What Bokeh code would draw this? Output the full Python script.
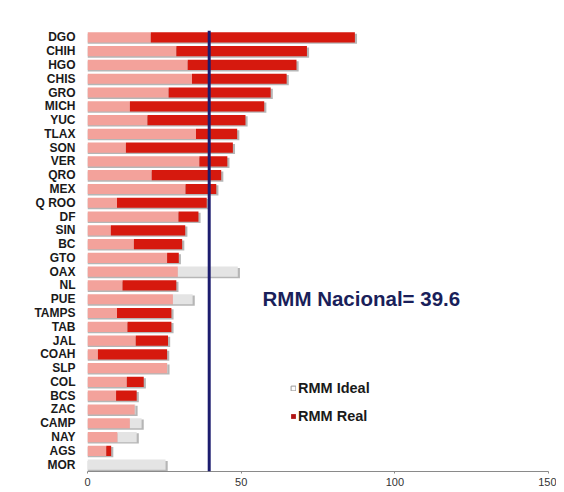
from bokeh.plotting import figure
from bokeh.models import (ColumnDataSource, FactorRange, Range1d, Span, Label,
                          Legend, LegendItem, FixedTicker)
from bokeh.transform import dodge
from bokeh.embed import file_html
from bokeh.resources import INLINE

states = ["DGO", "CHIH", "HGO", "CHIS", "GRO", "MICH", "YUC", "TLAX", "SON", "VER",
          "QRO", "MEX", "Q ROO", "DF", "SIN", "BC", "GTO", "OAX", "NL", "PUE",
          "TAMPS", "TAB", "JAL", "COAH", "SLP", "COL", "BCS", "ZAC", "CAMP", "NAY",
          "AGS", "MOR"]
rmm_ideal = [20.6, 28.9, 32.6, 34.0, 26.4, 13.8, 19.5, 35.3, 12.5, 36.4,
             20.9, 31.9, 9.6, 29.6, 7.6, 15.1, 25.9, 48.9, 11.4, 34.2,
             9.6, 13.0, 15.7, 3.4, 26.0, 12.8, 9.3, 15.6, 17.6, 16.0,
             6.1, 25.4]
rmm_real = [87.0, 71.4, 68.0, 64.8, 59.6, 57.5, 51.4, 48.7, 47.3, 45.5,
            43.5, 41.9, 38.8, 36.1, 31.8, 30.8, 29.7, 29.4, 28.9, 27.8,
            27.3, 27.3, 26.2, 25.9, 25.9, 18.3, 16.0, 15.4, 13.8, 9.8,
            7.7, 0.0]
rmm_nacional = 39.6
x_ticks = [0, 50, 100, 150]

FONT = "Liberation Sans"
PINK = "#f3a29b"
RED = "#d6190e"
GRAY = "#e4e4e4"
NAVY = "#1c1c6e"
BAR_H = 0.74

overlap = [min(i, r) for i, r in zip(rmm_ideal, rmm_real)]
total = [max(i, r) for i, r in zip(rmm_ideal, rmm_real)]
src = ColumnDataSource(dict(
    state=states, ideal=rmm_ideal, real=rmm_real, overlap=overlap,
    total=[t + 0.7 for t in total], zero=[0] * len(states),
))

p = figure(width=556, height=488, output_backend="svg", toolbar_location=None,
           y_range=FactorRange(factors=list(reversed(states)), range_padding=0),
           x_range=Range1d(0, 150),
           min_border_left=87, min_border_right=8, min_border_top=30,
           min_border_bottom=10)
p.outline_line_color = None
p.grid.visible = False
p.background_fill_color = "white"

# drop shadow
p.hbar(y=dodge("state", -0.1, range=p.y_range), left="zero", right="total",
       height=BAR_H, source=src, fill_color="#7a7a7a", fill_alpha=0.55, line_color=None)
# overlap of ideal and real (pink)
p.hbar(y="state", left="zero", right="overlap", height=BAR_H, source=src,
       fill_color=PINK, line_color=None)
# real beyond ideal (red)
p.hbar(y="state", left="overlap", right="real", height=BAR_H, source=src,
       fill_color=RED, line_color=None)
# ideal beyond real (gray)
p.hbar(y="state", left="overlap", right="ideal", height=BAR_H, source=src,
       fill_color=GRAY, line_color=None)

# legend swatches (not drawn in the plot area)
nan = float("nan")
dummy = ColumnDataSource(dict(l=[nan], r=[nan], t=[nan], b=[nan]))
r_ideal = p.quad(left="l", right="r", top="t", bottom="b", source=dummy,
                 fill_color="white", line_color="#999999", line_width=1)
r_real = p.quad(left="l", right="r", top="t", bottom="b", source=dummy,
                fill_color="#b01414", line_color=None)
legend = Legend(items=[LegendItem(label="RMM Ideal", renderers=[r_ideal]),
                       LegendItem(label="RMM Real", renderers=[r_real])],
                location=(203, 47), orientation="vertical",
                glyph_width=6, glyph_height=6, label_standoff=2,
                label_height=16, spacing=12, padding=0, margin=0,
                border_line_color=None, background_fill_alpha=0,
                label_text_font=FONT, label_text_font_size="14.5px",
                label_text_font_style="bold", label_text_color="#1a1a1a")
p.add_layout(legend, "center")

p.add_layout(Span(location=rmm_nacional, dimension="height", line_color=NAVY,
                  line_width=3))
p.add_layout(Label(x=175, y=173, x_units="screen", y_units="screen",
                   text=f"RMM Nacional= {rmm_nacional}", text_font=FONT,
                   text_font_size="20.5px", text_font_style="bold",
                   text_color="#1a1f5a", text_baseline="middle"))

# y axis
p.yaxis.axis_line_color = None
p.yaxis.major_tick_line_color = None
p.yaxis.minor_tick_line_color = None
p.yaxis.major_label_standoff = 6
p.yaxis.major_label_text_font = FONT
p.yaxis.major_label_text_font_size = "12px"
p.yaxis.major_label_text_font_style = "bold"
p.yaxis.major_label_text_color = "#1a1a1a"

# x axis
p.xaxis.ticker = FixedTicker(ticks=x_ticks)
p.xaxis.axis_line_color = "#8a8a8a"
p.xaxis.major_tick_line_color = "#8a8a8a"
p.xaxis.major_tick_out = 2
p.xaxis.major_tick_in = 0
p.xaxis.minor_tick_line_color = None
p.xaxis.major_label_standoff = 4
p.xaxis.major_label_text_font = FONT
p.xaxis.major_label_text_font_size = "11px"
p.xaxis.major_label_text_color = "#333333"

open("out.html", "w").write(file_html(p, INLINE))
